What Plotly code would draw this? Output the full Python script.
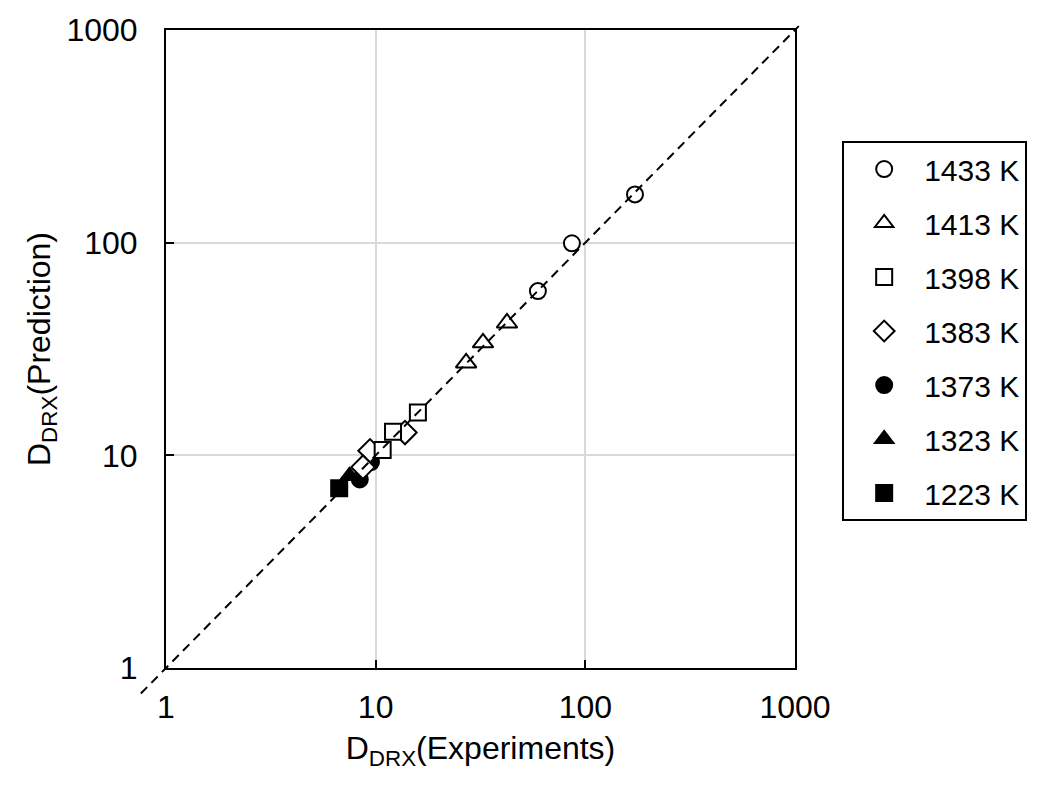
import plotly.graph_objects as go

# Measured vs predicted DRX grain size, grouped by deformation temperature
temps = ["1433 K", "1413 K", "1398 K", "1383 K", "1373 K", "1323 K", "1223 K"]

exp_1433 = [172.5, 86.3, 59.4]
pred_1433 = [168.6, 99.3, 59.2]

exp_1413 = [42.3, 32.5, 27.0]
pred_1413 = [41.9, 33.8, 27.2]

exp_1398 = [15.9, 12.1, 10.8]
pred_1398 = [15.9, 12.9, 10.6]

exp_1383 = [13.8, 9.4, 8.7]
pred_1383 = [12.8, 10.5, 8.8]

exp_1373 = [8.4, 9.5]
pred_1373 = [7.7, 9.3]

exp_1323 = [7.5]
pred_1323 = [8.0]

exp_1223 = [6.7]
pred_1223 = [7.0]

tick_vals = [1, 10, 100, 1000]
tick_text = ["1", "10", "100", "1000"]

series = [
    (temps[0], exp_1433, pred_1433, "circle", "white", 16),
    (temps[1], exp_1413, pred_1413, "triangle-up", "white", 18),
    (temps[2], exp_1398, pred_1398, "square", "white", 16),
    (temps[3], exp_1383, pred_1383, "diamond", "white", 18),
    (temps[4], exp_1373, pred_1373, "circle", "black", 16),
    (temps[5], exp_1323, pred_1323, "triangle-up", "black", 16),
    (temps[6], exp_1223, pred_1223, "square", "black", 16),
]

FONT = "Liberation Sans, Arial, sans-serif"

fig = go.Figure()

# draw the lower-temperature groups first so the open markers sit on top
for rank, (name, xs, ys, sym, fill, size) in reversed(list(enumerate(series))):
    fig.add_trace(go.Scatter(
        x=xs, y=ys, mode="markers", name=name,
        legendgroup=name, legendrank=rank + 1,
        marker=dict(symbol=sym, size=size, color=fill,
                    line=dict(color="black", width=2)),
        cliponaxis=False,
    ))

# 1:1 reference line (equal decades on both axes -> paper diagonal)
fig.add_shape(type="line", xref="paper", yref="paper",
              x0=-0.04, y0=-0.04, x1=1.006, y1=1.006,
              line=dict(color="black", width=2, dash="9px,6px"), layer="above")

axis_common = dict(
    type="log", tickvals=tick_vals, ticktext=tick_text,
    showline=True, linecolor="black", linewidth=2, mirror=True,
    ticks="inside", ticklen=8, tickwidth=2, tickcolor="black",
    showgrid=True, gridcolor="#d9d9d9", gridwidth=2,
    zeroline=False, tickfont=dict(family=FONT, size=32, color="black"),
    range=[0, 3],
)

fig.update_xaxes(**axis_common, ticklabelstandoff=10,
                 title=dict(text="D<sub>DRX</sub>(Experiments)",
                            font=dict(family=FONT, size=32, color="black"),
                            standoff=12))
fig.update_yaxes(**axis_common, ticklabelstandoff=20,
                 title=dict(text="D<sub>DRX</sub>(Prediction)",
                            font=dict(family=FONT, size=32, color="black"),
                            standoff=6))

fig.update_layout(
    width=1046, height=787,
    margin=dict(l=166, r=251, t=28, b=119),
    plot_bgcolor="white", paper_bgcolor="white",
    font=dict(family=FONT, color="black"),
    showlegend=True,
    legend=dict(
        x=1.075, y=0.826, xanchor="left", yanchor="top",
        bordercolor="black", borderwidth=2, bgcolor="white",
        font=dict(family=FONT, size=30, color="black"),
        tracegroupgap=12, itemwidth=70,
    ),
)

fig.write_html("out.html")
